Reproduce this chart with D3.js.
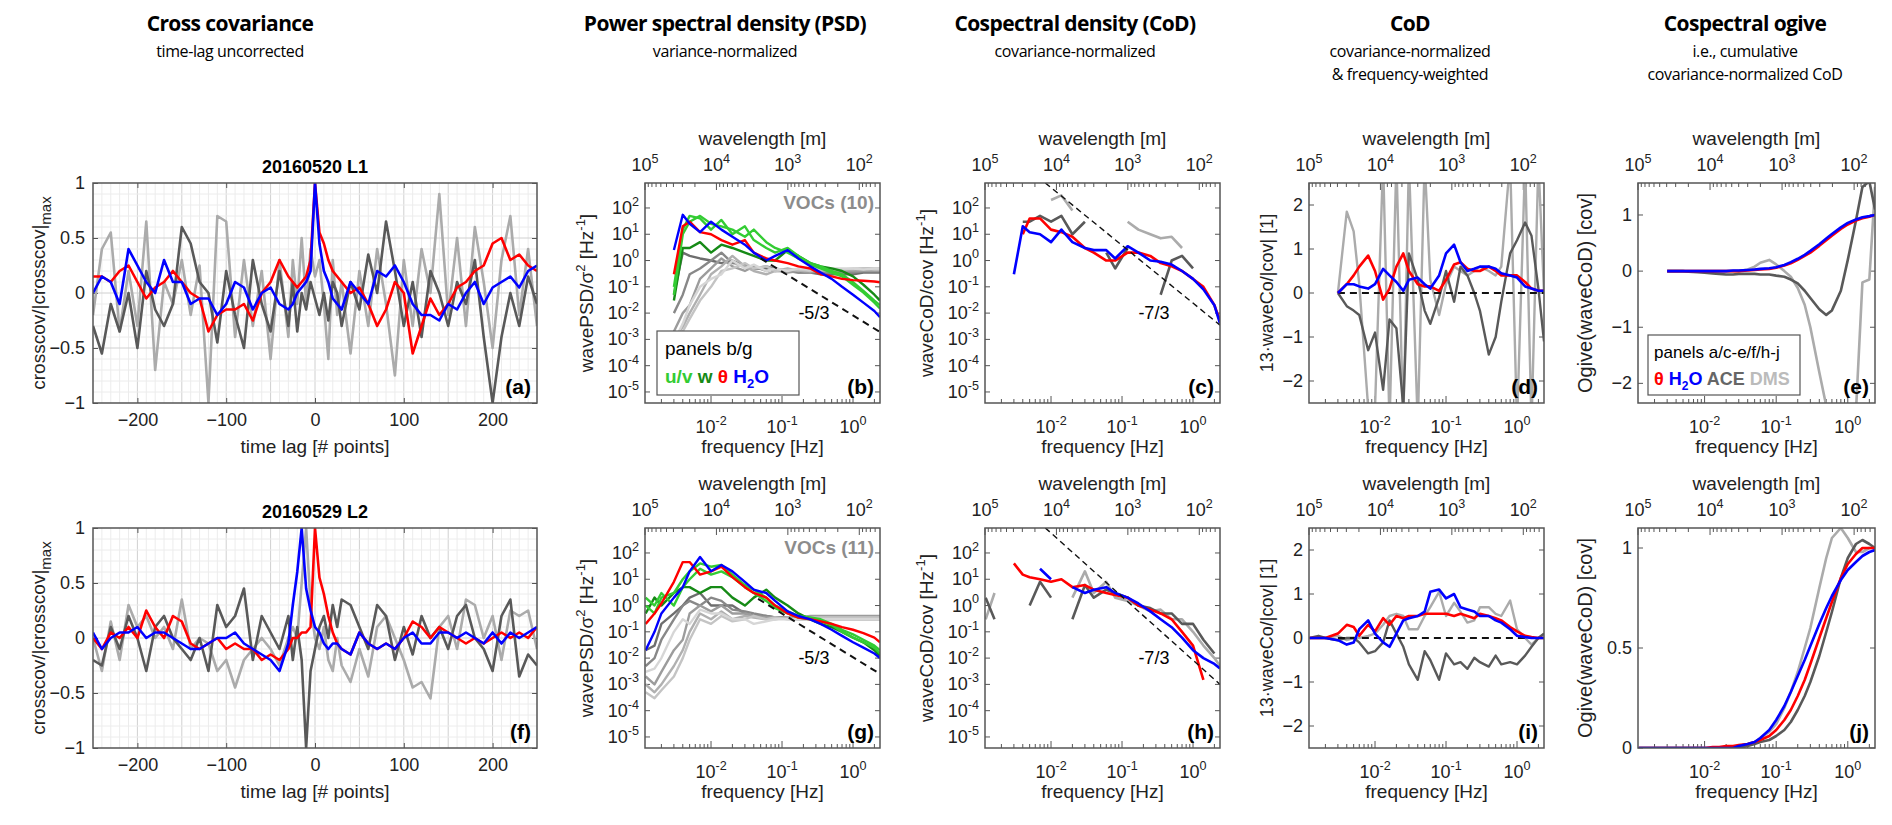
<!DOCTYPE html>
<html>
<head>
<meta charset="utf-8">
<script src="https://cdn.jsdelivr.net/npm/d3@7"></script>
<style>
  body { margin: 0; background: #fff; }
  text { font-family: "Liberation Sans", Arial, sans-serif; }
  .ttl { font-family: "Open Sans", sans-serif; }
</style>
</head>
<body>
<div id="chart"></div>
<script>
// ---------------- data ----------------
const lags = [-250,-240,-230,-220,-210,-200,-190,-180,-170,-160,-150,-140,-130,-120,-110,-100,-90,-80,-70,-60,-50,-40,-30,
  -25,-20,-15,-10,-5,0,5,10,15,20,25,
  30,40,50,60,70,80,90,100,110,120,130,140,150,160,170,180,190,200,210,220,230,240,250];

const aRed  = [0.15,0.15,0.1,0.2,0.25,0.1,-0.05,0.05,0.1,0.2,0.1,0,-0.05,-0.35,-0.2,-0.15,-0.15,-0.1,-0.25,0,0.1,0.3,0.15,
  0.1,0.05,0.1,0.15,0.3,1,0.55,0.45,0.3,0.2,0.15,
  0.1,0,0.05,-0.1,-0.3,-0.15,0.1,0,-0.55,-0.3,-0.05,-0.2,-0.1,0.05,0.1,0.2,0.25,0.45,0.5,0.3,0.35,0.25,0.2];
const aBlue = [0,0.15,0.1,-0.1,0.4,0.25,0.1,0,0.3,0.1,0.1,-0.1,-0.05,-0.05,-0.2,-0.1,0.1,0.05,-0.15,0,0.05,-0.1,-0.15,
  -0.1,0,0.05,0.1,0.2,1,0.45,0.2,0.1,-0.05,-0.1,
  -0.15,0.1,0,-0.1,0.2,0.15,0.25,0.1,-0.1,-0.2,-0.2,-0.25,-0.1,-0.15,0,0.1,-0.1,0.05,0.1,0.15,0.05,0.2,0.25];
const aAce  = [-0.3,-0.55,-0.1,-0.35,0,-0.5,0.2,-0.15,-0.3,-0.1,0.6,0.45,0.1,0,-0.45,0.2,-0.2,-0.5,0.3,-0.1,-0.35,0.2,-0.3,
  0.1,-0.35,0,-0.15,0.1,-0.05,-0.2,0,-0.25,0.1,0,
  -0.3,0.1,-0.15,0.35,0,0.65,0.2,-0.3,0.1,-0.4,0.2,0,-0.3,0.1,-0.1,0.3,-0.4,-1,-0.4,0,-0.3,0.15,-0.1];
const aDms  = [-0.2,0.4,0.55,-0.35,0.2,-0.3,0.65,-0.7,0.1,-0.1,0.3,-0.2,0.25,-1,0.7,0.65,-0.4,0.3,-0.3,0.2,-0.6,0.3,-0.4,
  0.3,-0.1,0.5,-0.1,0.4,0.15,0.3,-0.1,-0.6,0.3,-0.2,
  0.1,-0.55,0.2,-0.3,0.4,-0.1,-0.75,0.3,-0.3,0.4,0,0.9,-0.2,0.5,-0.3,0.6,0.1,-0.5,0.3,0.7,-0.2,0.4,-0.3];

const fRed  = [0,-0.1,0.05,0,0.1,0,0.25,0.1,0,0.2,0.15,-0.05,-0.1,-0.05,0,-0.1,-0.05,-0.1,-0.1,-0.2,-0.15,-0.2,-0.1,
  0,0,0.05,0.05,0.1,1,0.55,0.4,0.2,0.05,-0.05,
  -0.1,-0.15,0.05,-0.05,-0.1,-0.05,-0.1,0,0.15,0.1,0,0.1,0.05,0,-0.05,0,-0.05,0,0.05,0,0.05,0,0.1];
const fBlue = [0.05,-0.1,0,0.05,0.05,0.1,0,0.05,0.05,0,-0.05,-0.1,-0.1,-0.05,0,0,0.05,-0.05,-0.1,-0.15,-0.2,-0.3,-0.05,
  0.3,0.6,1,0.45,0.25,0.1,0.05,-0.05,-0.1,-0.05,-0.05,
  -0.1,-0.15,0.05,-0.05,-0.1,-0.05,-0.1,0,0.05,-0.05,-0.05,0.05,0.05,0,0.05,0,-0.05,0.05,-0.05,0.05,0,0.05,0.1];
const fAce  = [-0.2,-0.25,0.1,-0.1,0.2,0,-0.3,0.1,0.2,0,-0.1,-0.2,0,-0.3,0.3,0.1,0.2,0.45,-0.2,0.2,0.05,-0.1,0.2,
  -0.2,0.1,-0.2,-1,-0.3,-0.1,0.1,0.2,0,0.3,0.1,
  0.35,0.3,0.1,-0.1,0.3,0.2,-0.2,0.1,-0.15,0.2,0,0.1,-0.1,0.2,0.3,0,-0.1,-0.3,0.2,0.35,-0.35,-0.15,-0.25];
const fDms  = [0,-0.3,0.15,-0.2,0.3,0.1,0.2,0,0.1,-0.1,0.35,-0.1,0,-0.05,-0.3,-0.2,-0.45,-0.2,-0.1,0,-0.1,-0.25,0,
  0.1,0,0.5,1,0.3,0,-0.1,0.1,-0.2,-0.3,0,
  -0.25,-0.4,-0.1,-0.35,0.1,0.2,0,-0.2,-0.45,-0.4,-0.55,0.1,0.2,-0.1,0.35,0.3,0,0.2,-0.2,0.25,0.2,0.25,-0.1];

// frequency grids [Hz]
const freqB = [0.003,0.004,0.005,0.007,0.01,0.014,0.02,0.03,0.04,0.06,0.08,0.12,0.17,0.25,0.35,0.5,0.7,1,1.4,2,2.4];
const freqG = [0.0012,0.0016,0.002,0.003,0.004,0.005,0.007,0.01,0.014,0.02,0.03,0.04,0.06,0.08,0.12,0.17,0.25,0.35,0.5,0.7,1,1.4,2,2.4];
const freqD = [0.003,0.004,0.005,0.006,0.008,0.01,0.013,0.016,0.02,0.025,0.03,0.04,0.05,0.06,0.08,0.1,0.13,0.16,0.2,0.25,0.3,0.4,0.5,0.6,0.8,1,1.3,1.6,2,2.4];
const freqI = [0.0012,0.0016,0.002,0.003,0.004,0.005,0.006,0.008,0.01,0.013,0.016,0.02,0.025,0.03,0.04,0.05,0.06,0.08,0.1,0.13,0.16,0.2,0.25,0.3,0.4,0.5,0.6,0.8,1,1.3,1.6,2,2.4];

// panel b (PSD, L1)
const bU   = [0.1,15,50,40,15,35,10,20,6,3,2,3,1.5,0.8,0.6,0.4,0.3,0.15,0.07,0.03,0.02];
const bV   = [0.05,10,30,50,25,20,15,8,15,5,3,2,1.2,0.7,0.5,0.35,0.25,0.12,0.06,0.025,0.015];
const bW   = [0.03,3,3,5,2,4,3,2,1.5,1,1,2.5,1.5,0.8,0.6,0.5,0.4,0.25,0.12,0.05,0.03];
const bTh  = [0.3,20,30,12,10,6,4,6,2,1.2,1,0.8,0.6,0.5,0.3,0.25,0.2,0.18,0.17,0.16,0.15];
const bH2o = [2.5,55,25,12,30,15,8,4,2,1,1.5,2.5,1.2,0.6,0.35,0.2,0.1,0.05,0.025,0.012,0.007];
const bVoc = [
  [0.05,2,1.5,1.2,1,0.8,1,0.6,0.5,0.5,0.4,0.4,0.35,0.35,0.3,0.3,0.3,0.3,0.35,0.35,0.35],
  [0.01,0.05,0.3,0.5,1,2,0.8,0.7,0.5,0.6,0.5,0.4,0.4,0.4,0.35,0.35,0.35,0.35,0.4,0.4,0.4],
  [0.002,0.01,0.02,0.2,0.5,1.2,0.6,0.4,0.6,0.4,0.5,0.35,0.4,0.35,0.4,0.4,0.4,0.4,0.4,0.4,0.4],
  [0.001,0.003,0.01,0.05,0.3,0.6,1.5,0.6,0.4,0.3,0.4,0.5,0.4,0.45,0.4,0.45,0.45,0.45,0.5,0.5,0.5],
  [0.001,0.002,0.006,0.03,0.1,0.4,0.5,0.8,0.5,0.6,0.4,0.45,0.45,0.4,0.45,0.45,0.45,0.5,0.5,0.45,0.45],
  [0.0008,0.004,0.02,0.1,0.2,0.3,1,0.5,0.7,0.4,0.5,0.4,0.5,0.45,0.5,0.5,0.5,0.5,0.45,0.5,0.5]];
const slope53B = [[0.05,1.2],[2.4,0.0019]];

// panel c (CoD, L1)
const cTh  = [null,10,40,40,15,12,8,3,2,1,1,2,2,1.5,0.8,0.6,0.4,0.2,0.1,0.02,0.005];
const cH2o = [0.3,20,12,10,5,15,5,3,2.5,2.5,1.2,3.5,2,1,0.9,0.7,0.4,0.2,0.08,0.02,0.004];
const cAce = [null,30,30,50,30,50,10,30,null,2,0.5,3,null,null,0.05,1,1.5,0.5,null,null,0.1];
const cDms = [null,null,null,null,200,300,80,null,null,null,null,30,15,10,7,8,3,null,null,null,null];
const slope73C = [[0.0083,900],[2.4,0.0035]];

// panel d (frequency-weighted CoD, L1)
const dTh  = [0,0.2,0.4,0.6,0.85,0.5,-0.15,0.1,0.6,0.9,0.5,0.2,0.15,0.15,0.05,0.3,0.65,0.7,0.55,0.5,0.5,0.6,0.5,0.4,0.4,0.4,0.25,0.1,0.05,0.05];
const dH2o = [0,0.2,0.2,0.15,0.1,0.2,0.55,0.4,0.25,0.05,0.3,0.35,0.2,0.1,0.4,0.9,1.1,0.7,0.5,0.55,0.6,0.6,0.55,0.45,0.4,0.35,0.15,0.1,0.05,0.05];
const dAce = [0,-0.3,-0.4,-0.5,-1.3,-0.9,-2.2,-0.6,-0.8,-2.6,0.9,0.3,-0.4,-0.7,-0.1,0.5,-0.2,0.6,0.4,0,-0.4,-1.4,-1,-0.2,0.9,1.2,1.6,1.3,0.1,-1.1];
const dDms = [0,1.85,1.4,0.2,-2.6,-2.6,3,-3,3,-3,3,-3,3,0.3,-0.5,0.2,0.6,0.5,0.4,0.5,0.6,0.5,0.4,0.6,3,-3,3,-3,3,0];

// panel e (ogive, L1)
const eTh  = [0,0,0,0,0,0,0,0,0,0,0,0.01,0.02,0.03,0.04,0.06,0.1,0.14,0.2,0.27,0.33,0.45,0.55,0.63,0.75,0.83,0.9,0.94,0.97,1];
const eH2o = [0,0,0,0,0,0,0,0,0,0.01,0.01,0.02,0.03,0.04,0.05,0.07,0.11,0.16,0.22,0.29,0.36,0.48,0.58,0.66,0.78,0.86,0.92,0.96,0.98,1];
const eAce = [0,0,0,-0.01,-0.02,-0.03,-0.04,-0.05,-0.06,-0.06,-0.05,-0.05,-0.05,-0.06,-0.06,-0.08,-0.1,-0.15,-0.22,-0.35,-0.48,-0.68,-0.78,-0.7,-0.35,0.2,0.9,1.5,1.6,1.1];
const eDms = [0,0,0,0,0,0,0,0,0,0,0,0.03,0.08,0.15,0.2,0.12,0,-0.1,-0.3,-0.6,-1,-1.8,-2.4,-2.5,-2.5,-2.5,-2.5,-0.2,-0.15,1.5];

// panel g (PSD, L2)
const gU   = [1,0.5,2,3,10,20,40,30,35,15,6,4,2,1,0.6,0.4,0.35,0.3,0.2,0.12,0.08,0.05,0.03,0.02];
const gV   = [2,1,3,1,5,10,25,15,20,12,5,3,1.5,0.8,0.5,0.35,0.3,0.25,0.18,0.1,0.06,0.04,0.025,0.015];
const gW   = [0.5,2,1,3,5,5,3,5,5,2,1,2,4,2,1,0.5,0.3,0.2,0.15,0.1,0.06,0.04,0.02,0.012];
const gTh  = [0.2,0.5,1.2,8,45,45,15,20,30,12,5,3,2,1,0.5,0.35,0.3,0.25,0.2,0.15,0.12,0.09,0.06,0.04];
const gH2o = [0.02,0.1,0.5,2,5,20,70,20,35,20,8,4,3,1.5,0.6,0.4,0.3,0.2,0.12,0.07,0.04,0.025,0.015,0.01];
const gVoc = [
  [0.02,0.03,0.2,0.5,1,2,3,1,1,1,0.5,0.4,0.4,0.35,0.35,0.35,0.35,0.35,0.35,0.35,0.35,0.35,0.35,0.35],
  [0.005,0.01,0.05,0.3,1,1.5,1,2,1.5,0.7,0.6,0.5,0.4,0.35,0.35,0.3,0.3,0.3,0.3,0.3,0.3,0.3,0.3,0.3],
  [0.002,0.001,0.003,0.02,0.05,0.5,1,0.6,1,0.5,0.5,0.4,0.35,0.35,0.35,0.35,0.4,0.4,0.4,0.4,0.4,0.4,0.4,0.4],
  [0.001,0.0005,0.001,0.005,0.02,0.1,0.5,0.3,0.6,0.3,0.4,0.35,0.3,0.3,0.35,0.35,0.35,0.35,0.35,0.35,0.35,0.35,0.35,0.35],
  [0.0005,0.0003,0.0006,0.002,0.01,0.05,0.3,0.2,0.4,0.25,0.3,0.4,0.3,0.35,0.3,0.3,0.35,0.35,0.35,0.35,0.35,0.35,0.35,0.35],
  [0.003,0.004,0.01,0.1,0.3,0.2,0.7,0.5,0.5,0.3,0.3,0.2,0.25,0.3,0.3,0.3,0.3,0.3,0.3,0.3,0.3,0.3,0.3,0.3]];
const slope53G = [[0.046,1.8],[2.4,0.0025]];

// panel h (CoD, L2)
const hTh  = [null,null,null,40,15,12,10,8,10,5,6,4,3,2.5,2,1,0.7,0.5,0.3,0.1,0.03,0.0015,null,null];
const hH2o = [null,null,null,null,null,null,25,10,null,5,3,4,5,3,2,1.2,0.6,0.3,0.15,0.06,0.02,0.01,0.006,0.004];
const hAce = [2,0.3,null,null,null,1,8,2,null,0.3,6,2,4,3,2,1,0.8,0.5,0.5,0.2,0.2,0.05,0.015,null];
const hDms = [0.3,3,null,null,null,null,null,null,null,2,20,3,8,2,1.5,1,0.6,0.7,0.3,0.3,0.1,0.03,0.01,0.005];
const slope73H = [[0.0083,900],[2.4,0.001]];

// panel i (frequency-weighted CoD, L2)
const iTh  = [0,0,0,0.1,0.3,0.25,0.05,0.3,0.15,0.45,0.3,0.5,0.45,0.5,0.5,0.55,0.55,0.55,0.55,0.5,0.55,0.5,0.45,0.55,0.5,0.45,0.4,0.25,0.15,0.05,0.02,0,0];
const iH2o = [0,0,0,-0.05,-0.15,-0.1,0.2,0.4,0.1,-0.1,-0.2,0.1,0.4,0.45,0.5,0.6,1.05,1.1,0.9,1,0.7,0.65,0.6,0.5,0.5,0.4,0.35,0.2,0.05,0.02,0,0,0];
const iAce = [0,0.05,0,-0.05,0,0,-0.1,-0.35,-0.3,-0.1,0.4,0.1,-0.2,-0.6,-0.95,-0.3,-0.5,-0.95,-0.35,-0.6,-0.55,-0.7,-0.45,-0.55,-0.65,-0.4,-0.6,-0.55,-0.6,-0.4,-0.2,0,0.1];
const iDms = [0,0,0,0.05,-0.05,0,0,0.05,0.1,0.3,0.5,0.55,0.5,0.2,0.2,0.5,0.7,1.05,0.5,0.8,0.6,0.35,0.4,0.7,0.7,0.55,0.5,0.85,0.2,0,-0.15,0,0.1];

// panel j (ogive, L2)
const jTh  = [0,0,0,0,0,0,0,0,0,0.005,0.005,0.01,0.01,0.015,0.02,0.03,0.04,0.06,0.09,0.14,0.19,0.26,0.34,0.42,0.55,0.65,0.73,0.85,0.92,0.97,1,1,1];
const jH2o = [0,0,0,0,0,0,0,0,0,0,0,0,0,0.01,0.02,0.03,0.05,0.09,0.14,0.21,0.28,0.36,0.44,0.51,0.62,0.7,0.76,0.84,0.89,0.93,0.96,0.98,0.99];
const jAce = [0,0,0,0,0,0,0,0,0,-0.01,-0.01,-0.01,-0.005,0,0.01,0.02,0.03,0.04,0.06,0.09,0.13,0.19,0.26,0.33,0.46,0.58,0.68,0.85,0.95,1.02,1.04,1.02,1];
const jDms = [0,0,0,0,0,0,0,0,0,0,0,0,0,0.01,0.02,0.03,0.05,0.08,0.12,0.2,0.28,0.38,0.5,0.6,0.8,0.95,1.05,1.1,1.05,0.98,0.98,1,1];

const zeroLine = [[0.003,0],[2.4,0]];

const colTitles = ["Cross covariance","Power spectral density (PSD)","Cospectral density (CoD)","CoD","Cospectral ogive"];
const colSubs = [["time-lag uncorrected"],["variance-normalized"],["covariance-normalized"],
  ["covariance-normalized","& frequency-weighted"],["i.e., cumulative","covariance-normalized CoD"]];
const colCenters = [230,725,1075,1410,1745];

// ---------------- layout ----------------
const C = {red:"#ff0000", blue:"#0000ff", lg:"#33cc33", dg:"#168a16", ace:"#595959", dms:"#ababab"};
const vocShades = ["#6e6e6e","#888","#9c9c9c","#b0b0b0","#c4c4c4","#d6d6d6"];
const cols = [[93,537],[645,880],[985,1220],[1309,1544],[1638,1875]];
const rows = [183,528];
const PH = 220;

const svg = d3.select("#chart").append("svg").attr("width",1892).attr("height",825);
const defs = svg.append("defs");
let clipId = 0;

colTitles.forEach((t,i)=>{
  svg.append("text").attr("class","ttl").attr("x",colCenters[i]).attr("y",31).attr("text-anchor","middle")
    .attr("font-size",21).attr("font-weight","bold").attr("letter-spacing",-0.6).text(t);
  colSubs[i].forEach((s,k)=>svg.append("text").attr("class","ttl").attr("x",colCenters[i]).attr("y",57+k*23)
    .attr("text-anchor","middle").attr("font-size",16).attr("letter-spacing",-0.4).text(s));
});

function supLabel(sel, exp, size) {
  sel.text(null);
  sel.append("tspan").text("10");
  sel.append("tspan").attr("dy",-size*0.45).attr("font-size",size*0.7).text(exp);
}

function frame(g, w, h) {
  g.append("rect").attr("width",w).attr("height",h).attr("fill","none").attr("stroke","#555").attr("stroke-width",1.5);
}

function clip(g, w, h) {
  const id = "clip" + (clipId++);
  defs.append("clipPath").attr("id",id).append("rect").attr("width",w).attr("height",h);
  return g.append("g").attr("clip-path",`url(#${id})`);
}

function drawLine(layer, xs, ys, x, y, color, width, dash) {
  const pts = xs.map((v,i)=>[v, ys[i]]);
  layer.append("path").datum(pts)
    .attr("d", d3.line().defined(d=>d[1]!=null).x(d=>x(d[0])).y(d=>y(d[1])))
    .attr("fill","none").attr("stroke",color).attr("stroke-width",width)
    .attr("stroke-dasharray",dash||null).attr("stroke-linejoin","round");
}

function letter(g, w, h, s) {
  g.append("text").attr("x",w-6).attr("y",h-9).attr("text-anchor","end").attr("font-size",21)
    .attr("font-weight","bold").text(s);
}

function yLabel(g, x, h, parts) {
  const t = g.append("text").attr("transform",`translate(${x},${h/2}) rotate(-90)`).attr("text-anchor","middle")
    .attr("font-size",19).attr("fill","#222");
  parts(t);
}

// ---------------- cross-covariance panels ----------------
function crossPanel(ci, ri, title, series, lab) {
  const [x0,x1] = cols[ci], w = x1-x0, top = rows[ri];
  const g = svg.append("g").attr("transform",`translate(${x0},${top})`);
  const x = d3.scaleLinear().domain([-250,250]).range([0,w]);
  const y = d3.scaleLinear().domain([-1,1]).range([PH,0]);
  // grid
  g.append("g").selectAll("line").data(d3.range(-240,250,10)).join("line")
    .attr("x1",d=>x(d)).attr("x2",d=>x(d)).attr("y1",0).attr("y2",PH)
    .attr("stroke",d=>d%50===0?"#d0d0d0":"#ececec");
  g.append("g").selectAll("line").data(d3.range(-0.9,1,0.1)).join("line")
    .attr("y1",d=>y(d)).attr("y2",d=>y(d)).attr("x1",0).attr("x2",w)
    .attr("stroke",d=>Math.abs(Math.round(d*10))%5===0?"#d0d0d0":"#ececec");
  const ax = g.append("g").attr("transform",`translate(0,${PH})`)
    .call(d3.axisBottom(x).tickValues([-200,-100,0,100,200]).tickSize(-5).tickPadding(10));
  const ay = g.append("g").call(d3.axisLeft(y).tickValues([-1,-0.5,0,0.5,1]).tickSize(-5).tickPadding(8).tickFormat(d3.format("")));
  g.append("g").attr("transform",`translate(${w},0)`).call(d3.axisRight(y).tickValues([-1,-0.5,0,0.5,1]).tickSize(-5).tickFormat(""));
  g.append("g").call(d3.axisTop(x).tickValues([-200,-100,0,100,200]).tickSize(-5).tickFormat(""));
  [ax,ay].forEach(a=>{a.selectAll("text").attr("font-size",18).attr("fill","#222"); });
  g.selectAll(".domain").remove();
  g.selectAll(".tick line").attr("stroke","#555");
  const L = clip(g,w,PH);
  series.forEach(s=>drawLine(L, lags, s[0], x, y, s[1], 2.6));
  frame(g,w,PH);
  g.append("text").attr("x",x(0)).attr("y",-10).attr("text-anchor","middle").attr("font-size",18)
    .attr("font-weight","bold").text(title);
  g.append("text").attr("x",x(0)).attr("y",PH+50).attr("text-anchor","middle").attr("font-size",19)
    .attr("fill","#222").text("time lag [# points]");
  yLabel(g,-48,PH,t=>{t.append("tspan").text("crosscov/|crosscov|");
    t.append("tspan").attr("dy",6).attr("font-size",15).text("max");});
  letter(g,w,PH,lab);
}

crossPanel(0,0,"20160520 L1",[[aDms,C.dms],[aAce,C.ace],[aRed,C.red],[aBlue,C.blue]],"(a)");
crossPanel(0,1,"20160529 L2",[[fDms,C.dms],[fAce,C.ace],[fRed,C.red],[fBlue,C.blue]],"(f)");

// ---------------- frequency panels ----------------
function freqPanel(ci, ri, yCfg) {
  const [x0,x1] = cols[ci], w = x1-x0, top = rows[ri];
  const g = svg.append("g").attr("transform",`translate(${x0},${top})`);
  const x = d3.scaleLog().domain([10**-2.93, 10**0.38]).range([0,w]);
  const xw = d3.scaleLog().domain([1e5, 10**1.71]).range([0,w]);
  const y = yCfg.log ? d3.scaleLog().domain(yCfg.domain).range([PH,0]) : d3.scaleLinear().domain(yCfg.domain).range([PH,0]);

  // bottom minor & major ticks
  const fMinor = [];
  [0.001,0.01,0.1,1].forEach(b=>{ for (let k=1;k<10;k++){ const v=b*k; if (v>=x.domain()[0] && v<=x.domain()[1]) fMinor.push(v);} });
  g.append("g").selectAll("line").data(fMinor).join("line")
    .attr("x1",d=>x(d)).attr("x2",d=>x(d)).attr("y1",PH).attr("y2",d=>PH-(Math.log10(d)%1===0?7:4)).attr("stroke","#555");
  const fMaj = [0.01,0.1,1], fExp = ["-2","-1","0"];
  g.append("g").selectAll("text").data(fMaj).join("text")
    .attr("x",d=>x(d)).attr("y",PH+30).attr("text-anchor","middle").attr("font-size",18).attr("fill","#222")
    .each(function(d,i){ supLabel(d3.select(this), fExp[i], 18); });
  g.append("text").attr("x",w/2).attr("y",PH+50).attr("text-anchor","middle").attr("font-size",19)
    .attr("fill","#222").text("frequency [Hz]");

  // top wavelength axis
  const wMinor = [];
  [10,100,1000,10000].forEach(b=>{ for (let k=1;k<10;k++){ const v=b*k; if (v<=1e5 && v>=xw.domain()[1]) wMinor.push(v);} });
  wMinor.push(1e5);
  g.append("g").selectAll("line").data(wMinor).join("line")
    .attr("x1",d=>xw(d)).attr("x2",d=>xw(d)).attr("y1",0).attr("y2",d=>(Math.abs(Math.log10(d)%1)<1e-9?7:4)).attr("stroke","#555");
  const wMaj = [1e5,1e4,1e3,1e2], wExp = ["5","4","3","2"];
  g.append("g").selectAll("text").data(wMaj).join("text")
    .attr("x",d=>xw(d)).attr("y",-12).attr("text-anchor","middle").attr("font-size",18).attr("fill","#222")
    .each(function(d,i){ supLabel(d3.select(this), wExp[i], 18); });
  g.append("text").attr("x",w/2).attr("y",-38).attr("text-anchor","middle").attr("font-size",19)
    .attr("fill","#222").text("wavelength [m]");

  // y axis
  const yt = g.append("g").selectAll("g").data(yCfg.ticks).join("g");
  yt.append("line").attr("x1",0).attr("x2",5).attr("y1",d=>y(d)).attr("y2",d=>y(d)).attr("stroke","#555");
  yt.append("line").attr("x1",w).attr("x2",w-5).attr("y1",d=>y(d)).attr("y2",d=>y(d)).attr("stroke","#555");
  yt.append("text").attr("x",-6).attr("y",d=>y(d)+6).attr("text-anchor","end").attr("font-size",18).attr("fill","#222")
    .each(function(d){ if (yCfg.log) supLabel(d3.select(this), String(Math.round(Math.log10(d))), 18);
      else d3.select(this).text(d3.format("")(d)); });

  const L = clip(g,w,PH);
  frame(g,w,PH);
  return {g, L, x, y, w};
}

const logY = {log:true, domain:[10**-5.42, 10**2.95], ticks:[1e2,1e1,1,1e-1,1e-2,1e-3,1e-4,1e-5]};

function psdPanel(ri, d, lab, vocTxt) {
  const p = freqPanel(1, ri, logY);
  d.voc.forEach((s,i)=>drawLine(p.L, d.f, s, p.x, p.y, vocShades[i], 2.4));
  drawLine(p.L, d.f, d.w, p.x, p.y, C.dg, 2.4);
  drawLine(p.L, d.f, d.u, p.x, p.y, C.lg, 2.4);
  drawLine(p.L, d.f, d.v, p.x, p.y, C.lg, 2.4);
  drawLine(p.L, d.f, d.th, p.x, p.y, C.red, 2.4);
  drawLine(p.L, d.f, d.h2o, p.x, p.y, C.blue, 2.4);
  drawLine(p.L, d.slope.map(s=>s[0]), d.slope.map(s=>s[1]), p.x, p.y, "#111", 2, "7,5");
  p.g.append("text").attr("x",p.x(0.17)).attr("y",136).attr("font-size",18).text("-5/3");
  p.g.append("text").attr("x",p.w-6).attr("y",26).attr("text-anchor","end").attr("font-size",19)
    .attr("font-weight","bold").attr("fill","#8c8c8c").text(vocTxt);
  yLabel(p.g,-52,PH,t=>{t.append("tspan").text("wavePSD/σ");
    t.append("tspan").attr("dy",-8).attr("font-size",13).text("2");
    t.append("tspan").attr("dy",8).text("   [Hz");
    t.append("tspan").attr("dy",-8).attr("font-size",13).text("-1");
    t.append("tspan").attr("dy",8).text("]");});
  letter(p.g,p.w,PH,lab);
  return p;
}

const pb = psdPanel(0,{f:freqB,u:bU,v:bV,w:bW,th:bTh,h2o:bH2o,voc:bVoc,slope:slope53B},"(b)","VOCs (10)");
psdPanel(1,{f:freqG,u:gU,v:gV,w:gW,th:gTh,h2o:gH2o,voc:gVoc,slope:slope53G},"(g)","VOCs (11)");

// legend b
{
  const lg = pb.g.append("g").attr("transform","translate(12,148)");
  lg.append("rect").attr("width",142).attr("height",64).attr("fill","#fff").attr("stroke","#555").attr("stroke-width",1.2);
  lg.append("text").attr("x",8).attr("y",24).attr("font-size",19).text("panels b/g");
  const t = lg.append("text").attr("x",8).attr("y",52).attr("font-size",19).attr("font-weight","bold");
  t.append("tspan").attr("fill",C.lg).text("u/v  ");
  t.append("tspan").attr("fill",C.dg).text("w  ");
  t.append("tspan").attr("fill",C.red).text("θ  ");
  t.append("tspan").attr("fill",C.blue).text("H");
  t.append("tspan").attr("fill",C.blue).attr("font-size",13).attr("dy",5).text("2");
  t.append("tspan").attr("fill",C.blue).attr("dy",-5).text("O");
}

function codPanel(ri, d, lab) {
  const p = freqPanel(2, ri, logY);
  drawLine(p.L, d.f, d.dms, p.x, p.y, C.dms, 2.6);
  drawLine(p.L, d.f, d.ace, p.x, p.y, C.ace, 2.6);
  drawLine(p.L, d.f, d.th, p.x, p.y, C.red, 2.6);
  drawLine(p.L, d.f, d.h2o, p.x, p.y, C.blue, 2.6);
  drawLine(p.L, d.slope.map(s=>s[0]), d.slope.map(s=>s[1]), p.x, p.y, "#111", 1.4, "6,4");
  p.g.append("text").attr("x",p.x(0.17)).attr("y",136).attr("font-size",18).text("-7/3");
  yLabel(p.g,-52,PH,t=>{t.append("tspan").text("waveCoD/cov");
    t.append("tspan").text("   [Hz");
    t.append("tspan").attr("dy",-8).attr("font-size",13).text("-1");
    t.append("tspan").attr("dy",8).text("]");});
  letter(p.g,p.w,PH,lab);
}

codPanel(0,{f:freqB,th:cTh,h2o:cH2o,ace:cAce,dms:cDms,slope:slope73C},"(c)");
codPanel(1,{f:freqG,th:hTh,h2o:hH2o,ace:hAce,dms:hDms,slope:slope73H},"(h)");

function fwPanel(ri, d, lab) {
  const p = freqPanel(3, ri, {log:false, domain:[-2.5,2.5], ticks:[-2,-1,0,1,2]});
  drawLine(p.L, d.f, d.dms, p.x, p.y, C.dms, 2.4);
  drawLine(p.L, d.f, d.ace, p.x, p.y, C.ace, 2.4);
  drawLine(p.L, zeroLine.map(s=>s[0]), zeroLine.map(s=>s[1]), p.x, p.y, "#111", 2, "7,5");
  drawLine(p.L, d.f, d.th, p.x, p.y, C.red, 2.6);
  drawLine(p.L, d.f, d.h2o, p.x, p.y, C.blue, 2.6);
  yLabel(p.g,-36,PH,t=>{t.attr("font-family","DejaVu Serif").attr("font-size",18)
    .text("13·waveCo/|cov|    [1]");});
  letter(p.g,p.w,PH,lab);
}

fwPanel(0,{f:freqD,th:dTh,h2o:dH2o,ace:dAce,dms:dDms},"(d)");
fwPanel(1,{f:freqI,th:iTh,h2o:iH2o,ace:iAce,dms:iDms},"(i)");

function ogivePanel(ri, d, lab, yCfg) {
  const p = freqPanel(4, ri, yCfg);
  drawLine(p.L, d.f, d.dms, p.x, p.y, C.dms, 2.6);
  drawLine(p.L, d.f, d.ace, p.x, p.y, C.ace, 2.6);
  drawLine(p.L, d.f, d.th, p.x, p.y, C.red, 2.6);
  drawLine(p.L, d.f, d.h2o, p.x, p.y, C.blue, 2.6);
  yLabel(p.g,-46,PH,t=>{t.attr("font-size",20).text("Ogive(waveCoD)    [cov]");});
  letter(p.g,p.w,PH,lab);
  return p;
}

const pe = ogivePanel(0,{f:freqD,th:eTh,h2o:eH2o,ace:eAce,dms:eDms},"(e)",{log:false, domain:[-2.35,1.57], ticks:[-2,-1,0,1]});
ogivePanel(1,{f:freqI,th:jTh,h2o:jH2o,ace:jAce,dms:jDms},"(j)",{log:false, domain:[0,1.1], ticks:[0,0.5,1]});

// legend e
{
  const lg = pe.g.append("g").attr("transform","translate(10,152)");
  lg.append("rect").attr("width",152).attr("height",60).attr("fill","#fff").attr("stroke","#555").attr("stroke-width",1.2);
  lg.append("text").attr("x",6).attr("y",23).attr("font-size",17).text("panels a/c-e/f/h-j");
  const t = lg.append("text").attr("x",6).attr("y",50).attr("font-size",18).attr("font-weight","bold");
  t.append("tspan").attr("fill",C.red).text("θ ");
  t.append("tspan").attr("fill",C.blue).text("H");
  t.append("tspan").attr("fill",C.blue).attr("font-size",12).attr("dy",5).text("2");
  t.append("tspan").attr("fill",C.blue).attr("dy",-5).text("O ");
  t.append("tspan").attr("fill","#666").text("ACE ");
  t.append("tspan").attr("fill","#bbb").text("DMS");
}
</script>
</body>
</html>
